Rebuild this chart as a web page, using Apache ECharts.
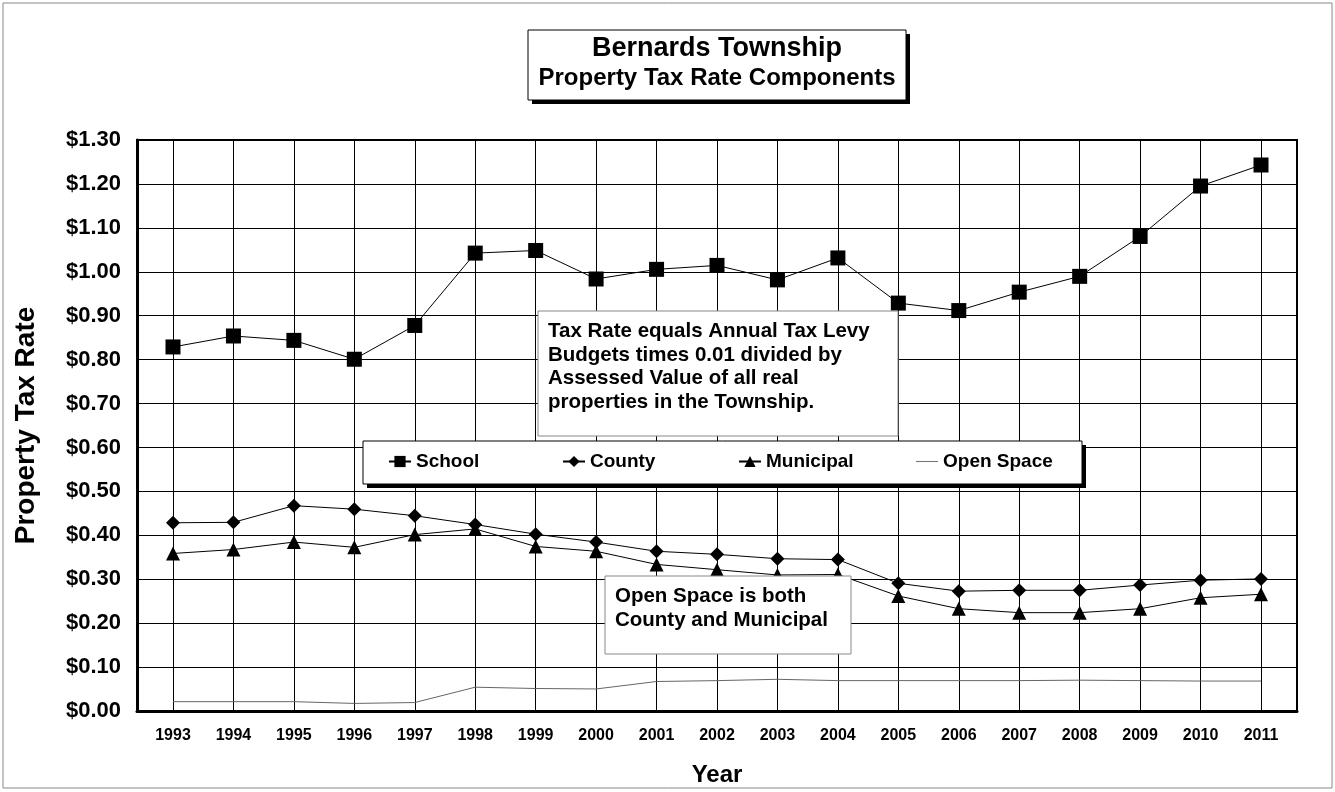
<!DOCTYPE html>
<html>
<head>
<meta charset="utf-8">
<script src="https://cdn.jsdelivr.net/npm/echarts@6/dist/echarts.min.js"></script>
<style>
  html, body { margin: 0; padding: 0; background: #fff; }
  #chart { width: 1335px; height: 792px; }
</style>
</head>
<body>
<div id="chart"></div>
<script>
'use strict';

// years on the x axis
var years = ['1993', '1994', '1995', '1996', '1997', '1998', '1999', '2000', '2001', '2002',
             '2003', '2004', '2005', '2006', '2007', '2008', '2009', '2010', '2011'];

// tax rate components, $ per $100 of assessed value
var school    = [0.828, 0.853, 0.843, 0.800, 0.877, 1.042, 1.048, 0.983, 1.005, 1.014,
                 0.981, 1.031, 0.928, 0.911, 0.953, 0.989, 1.080, 1.195, 1.243];
var county    = [0.427, 0.428, 0.466, 0.458, 0.443, 0.423, 0.401, 0.383, 0.362, 0.355,
                 0.345, 0.343, 0.289, 0.271, 0.273, 0.273, 0.285, 0.296, 0.299];
var municipal = [0.357, 0.366, 0.383, 0.371, 0.400, 0.413, 0.373, 0.362, 0.332, 0.320,
                 0.308, 0.309, 0.260, 0.231, 0.222, 0.222, 0.231, 0.256, 0.264];
var openSpace = [0.019, 0.019, 0.019, 0.015, 0.017, 0.052, 0.049, 0.048, 0.065, 0.067,
                 0.070, 0.067, 0.067, 0.067, 0.067, 0.068, 0.067, 0.066, 0.066];

var FONT = "'Liberation Sans', Arial, Helvetica, sans-serif";

var chart = echarts.init(document.getElementById('chart'), null, {renderer: 'canvas'});

var lineSeries = function (name, data, symbol, size, color) {
    return {
        name: name, type: 'line', xAxisIndex: 1, yAxisIndex: 1,
        data: data, symbol: symbol, symbolSize: size,
        showSymbol: symbol !== 'none',
        itemStyle: {color: '#000'},
        lineStyle: {color: color, width: 1},
        emphasis: {disabled: true},
        z: 5
    };
};

// one legend entry, placed on its own so the entries sit evenly spaced like the original
var legendItem = function (item, left) {
    return {
        left: left, top: 452,
        padding: 0,
        itemWidth: 22, itemHeight: 14,
        selectedMode: false,
        z: 30,
        textStyle: {fontFamily: FONT, fontWeight: 'bold', fontSize: 19, color: '#000'},
        data: [item]
    };
};

// box with a solid drop shadow (title and legend frames)
var shadowBox = function (x, y, w, h) {
    return [
        {type: 'rect', z: 20, silent: true, shape: {x: x + 4, y: y + 4, width: w, height: h}, style: {fill: '#000'}},
        {type: 'rect', z: 21, silent: true, shape: {x: x, y: y, width: w, height: h}, style: {fill: '#fff', stroke: '#000', lineWidth: 1}}
    ];
};

// plain note box with text
var noteBox = function (x, y, w, h, text) {
    return [
        {type: 'rect', z: 22, silent: true, shape: {x: x, y: y, width: w, height: h}, style: {fill: '#fff', stroke: '#888', lineWidth: 1}},
        {type: 'text', z: 23, silent: true, x: x + 10, y: y + 9,
         style: {text: text, font: 'bold 20.5px ' + FONT, fill: '#000', lineHeight: 23.5}}
    ];
};

var option = {
    backgroundColor: '#fff',
    animation: false,
    textStyle: {fontFamily: FONT},
    title: {
        text: 'Bernards Township',
        subtext: 'Property Tax Rate Components',
        left: 717, top: 35,
        textAlign: 'center',
        itemGap: 4,
        padding: 0,
        z: 30,
        textStyle: {fontFamily: FONT, fontWeight: 'bold', fontSize: 27, color: '#000'},
        subtextStyle: {fontFamily: FONT, fontWeight: 'bold', fontSize: 24, color: '#000'}
    },
    legend: [
        legendItem('School', 388),
        legendItem('County', 562),
        legendItem('Municipal', 738),
        legendItem({name: 'Open Space', icon: 'path://M0,6L20,6L20,7L0,7Z', itemStyle: {color: '#777'}}, 916)
    ],
    grid: [
        {left: 137, top: 140, width: 1160, height: 571, show: true, borderColor: '#000', borderWidth: 2},
        {left: 173, top: 140, width: 1088, height: 571}
    ],
    xAxis: [
        {
            type: 'value', gridIndex: 0, min: 0, max: 1,
            axisLine: {show: true, lineStyle: {color: '#000', width: 3}},
            axisTick: {show: false}, axisLabel: {show: false}, splitLine: {show: false}
        },
        {
            type: 'category', gridIndex: 1, data: years, boundaryGap: false,
            axisLine: {show: false}, axisTick: {show: false},
            axisLabel: {fontFamily: FONT, fontWeight: 'bold', fontSize: 16, color: '#000', margin: 18, interval: 0},
            splitLine: {show: true, lineStyle: {color: '#000', width: 1}},
            name: 'Year', nameLocation: 'middle', nameGap: 53,
            nameTextStyle: {fontFamily: FONT, fontWeight: 'bold', fontSize: 24, color: '#000'}
        }
    ],
    yAxis: [
        {
            type: 'value', gridIndex: 0, min: 0, max: 1.3, interval: 0.1,
            axisLine: {show: true, lineStyle: {color: '#000', width: 3}},
            axisTick: {show: false},
            axisLabel: {
                fontFamily: FONT, fontWeight: 'bold', fontSize: 22, color: '#000', margin: 16,
                formatter: function (v) { return '$' + v.toFixed(2); }
            },
            splitLine: {show: true, lineStyle: {color: '#000', width: 1}},
            name: 'Property Tax Rate', nameLocation: 'middle', nameGap: 97,
            nameTextStyle: {fontFamily: FONT, fontWeight: 'bold', fontSize: 28, color: '#000'}
        },
        {
            type: 'value', gridIndex: 1, min: 0, max: 1.3, show: false
        }
    ],
    series: [
        lineSeries('School', school, 'rect', 15, '#000'),
        lineSeries('County', county, 'diamond', 14, '#000'),
        lineSeries('Municipal', municipal, 'triangle', 14, '#000'),
        lineSeries('Open Space', openSpace, 'none', 0, '#666')
    ],
    graphic: [
        {
            type: 'rect', z: 100, silent: true,
            shape: {x: 3, y: 3, width: 1329, height: 785},
            style: {fill: 'none', stroke: '#888', lineWidth: 1}
        }
    ].concat(
        shadowBox(528, 30, 378, 70),
        shadowBox(363, 441, 719, 43),
        noteBox(538, 311, 360, 125,
            'Tax Rate equals Annual Tax Levy\nBudgets times 0.01 divided by\nAssessed Value of all real\nproperties in the Township.'),
        noteBox(605, 576, 246, 78, 'Open Space is both\nCounty and Municipal')
    )
};

chart.setOption(option);
</script>
</body>
</html>
